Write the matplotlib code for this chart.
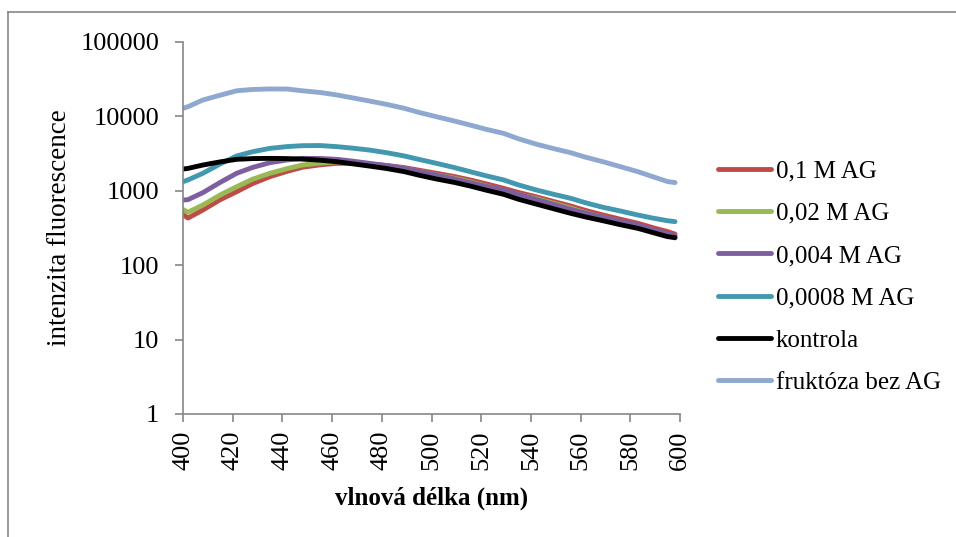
import matplotlib
matplotlib.use("Agg")
import matplotlib.pyplot as plt
from matplotlib.lines import Line2D

plt.rcParams['font.family'] = ['Liberation Serif', 'DejaVu Serif']

wavelength = [400, 402, 408, 415, 421.6, 428, 435, 442, 448, 455, 462, 468, 475, 482, 489, 495, 502, 509,
              515.5, 522, 529, 535, 542, 549, 556, 562, 569, 576, 583, 589, 595, 598]

ag_01 = [480, 430, 552, 760, 973, 1250, 1550, 1830, 2070, 2230, 2340, 2340, 2290, 2190, 2050, 1890, 1720, 1560,
         1400, 1240, 1080, 950, 833, 720, 625, 545, 473, 415, 366, 320, 283, 262]
ag_002 = [560, 515, 644, 880, 1135, 1430, 1720, 1990, 2220, 2360, 2460, 2420, 2270, 2150, 1990, 1820, 1640, 1480,
          1320, 1160, 1010, 890, 790, 680, 585, 505, 440, 385, 335, 290, 250, 232]
ag_0004 = [752, 760, 944, 1300, 1720, 2060, 2390, 2600, 2730, 2720, 2650, 2510, 2340, 2180, 2010, 1820, 1630, 1450,
           1285, 1150, 1030, 900, 769, 660, 564, 500, 440, 390, 347, 300, 263, 250]
ag_00008 = [1325, 1400, 1720, 2300, 2940, 3350, 3720, 3930, 4040, 4060, 3920, 3750, 3530, 3250, 2940, 2640, 2340, 2060,
            1810, 1590, 1400, 1200, 1030, 900, 793, 690, 600, 535, 473, 430, 396, 385]
kontrola = [1960, 2000, 2220, 2450, 2650, 2710, 2730, 2710, 2670, 2580, 2460, 2310, 2150, 1990, 1810, 1620, 1440, 1300,
            1160, 1020, 897, 770, 665, 575, 498, 445, 396, 350, 313, 275, 242, 235]
fruktoza = [12850, 13500, 16600, 19300, 22100, 23000, 23400, 23300, 22100, 21000, 19400, 17800, 16100, 14500, 12850, 11300, 9900, 8700,
            7660, 6700, 5920, 5000, 4250, 3700, 3250, 2830, 2460, 2110, 1810, 1550, 1330, 1290]

labels = ['0,1 M AG', '0,02 M AG', '0,004 M AG', '0,0008 M AG', 'kontrola', 'fruktóza bez AG']
series = [ag_01, ag_002, ag_0004, ag_00008, kontrola, fruktoza]
colors = ['#BE4B48', '#98B954', '#7D5FA0', '#4198AF', '#000000', '#8FA8CF']

fig = plt.figure(figsize=(9.56, 5.37), dpi=100)
ax = fig.add_axes([183/956, 1-414/537, (680-183)/956, (414-42)/537])

for vals, lab, col in zip(series, labels, colors):
    ax.plot(wavelength, vals, color=col, lw=3.5, label=lab, solid_capstyle='round', solid_joinstyle='round')

ax.set_yscale('log')
ax.set_ylim(1, 100000)
ax.set_xlim(400, 600)
ax.set_yticks([1, 10, 100, 1000, 10000, 100000])
ax.set_yticklabels(['1', '10', '100', '1000', '10000', '100000'])
ax.minorticks_off()
ax.set_xticks(range(400, 601, 20))
ax.set_xticklabels([str(v) for v in range(400, 601, 20)], rotation=90)

for s in ['top', 'right']:
    ax.spines[s].set_visible(False)
for s in ['left', 'bottom']:
    ax.spines[s].set_color('#868686')
    ax.spines[s].set_linewidth(1.2)
ax.tick_params(axis='both', colors='#868686', labelcolor='black', labelsize=19, length=6, width=1.2, direction='out')
ax.tick_params(axis='x', pad=6)
ax.tick_params(axis='y', pad=11)

ax.set_ylabel('intenzita fluorescence', fontsize=19.5, labelpad=6)
ax.set_xlabel('vlnová délka (nm)', fontsize=18, fontweight='bold', labelpad=12)

leg = fig.legend(loc='center left', bbox_to_anchor=(718/956, 1-277/537), frameon=False, fontsize=18,
                 handlelength=2.12, handletextpad=0.2, labelspacing=0.79, borderpad=0, borderaxespad=0)
for h in leg.get_lines():
    h.set_linewidth(3.5)
    h.set_solid_capstyle('round')

fig.add_artist(Line2D([8/956, 1], [1-12/537, 1-12/537], color='#868686', lw=1.2, transform=fig.transFigure))
fig.add_artist(Line2D([8/956, 8/956], [0, 1-12/537], color='#868686', lw=1.2, transform=fig.transFigure))

fig.savefig('out.png', dpi=100)
